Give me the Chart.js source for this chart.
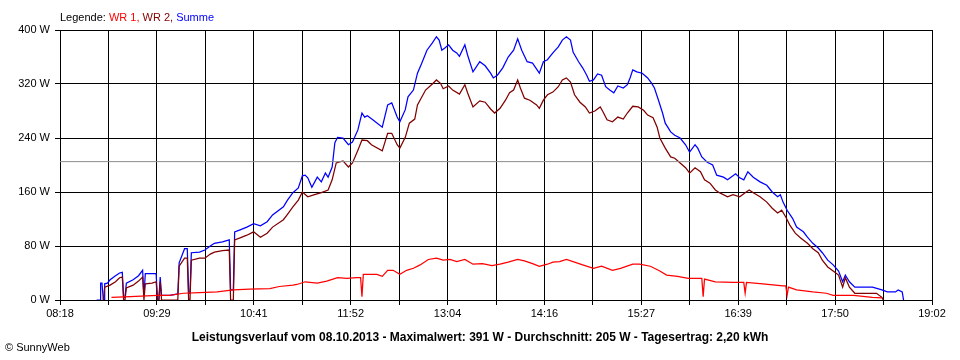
<!DOCTYPE html>
<html>
<head>
<meta charset="utf-8">
<script src="https://cdn.jsdelivr.net/npm/chart.js@4.4.1/dist/chart.umd.min.js"></script>
<style>
  html, body { margin: 0; padding: 0; background: #fff; }
  #wrap { position: relative; width: 960px; height: 360px; }
</style>
</head>
<body>
<div id="wrap"><canvas id="chart" width="960" height="360"></canvas></div>
<script>
// Tick labels of the time axis (every second grid line carries a label)
const xTickLabels = ['08:18', '09:29', '10:41', '11:52', '13:04', '14:16', '15:27', '16:39', '17:50', '19:02']
const yTickStep = 80
const yMax = 400
const averageValue = 205

// WR 1 [time, W]
const wr1 = [
    ['08:56', 4], ['09:10', 5], ['09:22', 6], ['09:30', 7], ['09:39', 7], ['09:49', 10], ['10:01', 11],
    ['10:14', 12], ['10:26', 15], ['10:38', 16], ['10:53', 17], ['11:00', 20], ['11:10', 22], ['11:13', 23],
    ['11:19', 27], ['11:28', 25], ['11:35', 28], ['11:43', 33], ['11:50', 32], ['11:57', 33], ['12:00', 33],
    ['12:01', 5], ['12:02', 38], ['12:12', 38], ['12:16', 35], ['12:20', 44], ['12:24', 44], ['12:29', 38],
    ['12:34', 44], ['12:39', 47], ['12:44', 52], ['12:50', 60], ['12:56', 62], ['13:01', 59], ['13:06', 60],
    ['13:11', 57], ['13:17', 60], ['13:23', 53], ['13:30', 54], ['13:37', 51], ['13:43', 53], ['13:49', 56],
    ['13:56', 60], ['14:01', 58], ['14:07', 54], ['14:12', 50], ['14:18', 53], ['14:22', 56], ['14:27', 57],
    ['14:32', 60], ['14:38', 56], ['14:44', 52], ['14:52', 47], ['14:58', 50], ['15:06', 44], ['15:12', 47],
    ['15:21', 53], ['15:26', 53], ['15:34', 50], ['15:41', 43], ['15:46', 37], ['15:54', 35], ['16:02', 32],
    ['16:12', 32], ['16:13', 5], ['16:14', 31], ['16:22', 27], ['16:35', 26], ['16:43', 26], ['16:44', 10],
    ['16:45', 26], ['16:57', 24], ['17:12', 21], ['17:14', 21], ['17:15', 7], ['17:16', 19], ['17:22', 15],
    ['17:34', 12], ['17:44', 10], ['17:49', 7], ['18:04', 7], ['18:18', 4], ['18:25', 3]
]

// WR 2 [time, W]
const wr2 = [
    ['08:50', 0], ['08:51', 19], ['08:55', 22], ['08:59', 27], ['09:02', 33], ['09:04', 34], ['09:05', 0],
    ['09:06', 0], ['09:07', 18], ['09:12', 22], ['09:16', 28], ['09:19', 34], ['09:20', 0], ['09:21', 24],
    ['09:26', 25], ['09:29', 27], ['09:30', 0], ['09:31', 0], ['09:32', 27], ['09:33', 0], ['09:45', 0],
    ['09:46', 50], ['09:50', 62], ['09:52', 62], ['09:53', 0], ['09:54', 0], ['09:55', 59], ['10:01', 62],
    ['10:05', 62], ['10:09', 68], ['10:12', 71], ['10:18', 73], ['10:23', 74], ['10:24', 0], ['10:26', 0],
    ['10:27', 89], ['10:31', 92], ['10:36', 96], ['10:41', 101], ['10:46', 93], ['10:51', 99], ['10:55', 108],
    ['11:03', 119], ['11:06', 127], ['11:10', 138], ['11:14', 148], ['11:17', 160], ['11:21', 153],
    ['11:26', 156], ['11:31', 159], ['11:36', 163], ['11:39', 178], ['11:42', 203], ['11:47', 206],
    ['11:51', 197], ['11:54', 203], ['11:58', 222], ['12:01', 237], ['12:05', 236], ['12:08', 230],
    ['12:16', 221], ['12:20', 247], ['12:23', 247], ['12:27', 230], ['12:29', 225], ['12:33', 241],
    ['12:36', 262], ['12:40', 268], ['12:42', 289], ['12:48', 311], ['12:53', 320], ['12:56', 326],
    ['12:59', 321], ['13:01', 313], ['13:05', 317], ['13:08', 311], ['13:13', 305], ['13:17', 319],
    ['13:19', 307], ['13:23', 286], ['13:28', 295], ['13:32', 293], ['13:36', 283], ['13:39', 277],
    ['13:43', 284], ['13:47', 296], ['13:50', 307], ['13:53', 311], ['13:56', 326], ['13:58', 314],
    ['14:01', 299], ['14:05', 296], ['14:10', 289], ['14:12', 284], ['14:15', 296], ['14:18', 304],
    ['14:22', 308], ['14:26', 316], ['14:29', 326], ['14:32', 329], ['14:35', 323], ['14:38', 304],
    ['14:42', 293], ['14:46', 286], ['14:49', 277], ['14:53', 280], ['14:57', 286], ['14:59', 279],
    ['15:02', 267], ['15:06', 264], ['15:10', 271], ['15:14', 268], ['15:17', 277], ['15:21', 287],
    ['15:25', 286], ['15:29', 281], ['15:32', 274], ['15:36', 270], ['15:39', 256], ['15:41', 240],
    ['15:45', 225], ['15:49', 212], ['15:52', 210], ['15:56', 203], ['16:00', 196], ['16:03', 188],
    ['16:07', 196], ['16:11', 190], ['16:14', 178], ['16:18', 173], ['16:22', 163], ['16:25', 159],
    ['16:31', 153], ['16:35', 156], ['16:40', 153], ['16:44', 159], ['16:47', 163], ['16:50', 159],
    ['16:55', 153], ['17:00', 145], ['17:04', 136], ['17:08', 129], ['17:11', 133], ['17:14', 123],
    ['17:17', 111], ['17:21', 99], ['17:25', 92], ['17:30', 84], ['17:34', 76], ['17:38', 70],
    ['17:41', 59], ['17:45', 49], ['17:49', 43], ['17:53', 37], ['17:56', 19], ['17:58', 33],
    ['18:01', 19], ['18:05', 10], ['18:13', 10], ['18:21', 10], ['18:25', 4], ['18:26', 0]
]

// Summe [time, W]
const summe = [
    ['08:45', 0], ['08:48', 0], ['08:48', 25], ['08:49', 25], ['08:50', 0], ['08:51', 0], ['08:51', 24],
    ['08:53', 25], ['08:55', 30], ['08:59', 36], ['09:02', 40], ['09:04', 41], ['09:05', 4], ['09:06', 4],
    ['09:07', 25], ['09:12', 30], ['09:16', 36], ['09:19', 44], ['09:20', 6], ['09:21', 39], ['09:29', 39],
    ['09:30', 0], ['09:31', 0], ['09:32', 34], ['09:33', 7], ['09:39', 7], ['09:45', 9], ['09:46', 55],
    ['09:50', 76], ['09:52', 76], ['09:53', 10], ['09:54', 10], ['09:55', 70], ['10:01', 71], ['10:05', 74],
    ['10:09', 80], ['10:12', 84], ['10:18', 86], ['10:23', 89], ['10:24', 15], ['10:26', 15], ['10:27', 101],
    ['10:31', 104], ['10:36', 108], ['10:41', 113], ['10:46', 110], ['10:51', 116], ['10:55', 126],
    ['11:03', 138], ['11:06', 148], ['11:10', 159], ['11:14', 166], ['11:17', 184], ['11:19', 185],
    ['11:21', 181], ['11:24', 167], ['11:28', 182], ['11:31', 175], ['11:34', 188], ['11:36', 182],
    ['11:39', 197], ['11:41', 233], ['11:43', 241], ['11:47', 240], ['11:51', 230], ['11:54', 234],
    ['11:58', 252], ['12:01', 277], ['12:03', 271], ['12:05', 273], ['12:09', 267], ['12:16', 256],
    ['12:20', 289], ['12:23', 292], ['12:27', 271], ['12:29', 264], ['12:33', 282], ['12:35', 301],
    ['12:39', 311], ['12:42', 336], ['12:45', 350], ['12:49', 370], ['12:53', 381], ['12:56', 390],
    ['12:58', 385], ['13:00', 370], ['13:02', 373], ['13:05', 378], ['13:08', 370], ['13:11', 366],
    ['13:13', 361], ['13:17', 378], ['13:19', 363], ['13:23', 338], ['13:28', 353], ['13:32', 347],
    ['13:36', 336], ['13:38', 329], ['13:41', 333], ['13:45', 344], ['13:49', 360], ['13:53', 370],
    ['13:56', 387], ['13:59', 370], ['14:03', 353], ['14:07', 351], ['14:10', 342], ['14:12', 336],
    ['14:15', 353], ['14:18', 356], ['14:22', 366], ['14:26', 375], ['14:29', 385], ['14:32', 390],
    ['14:35', 385], ['14:37', 367], ['14:41', 353], ['14:44', 344], ['14:47', 333], ['14:49', 324],
    ['14:52', 326], ['14:55', 335], ['14:58', 333], ['15:01', 316], ['15:04', 311], ['15:07', 307],
    ['15:10', 317], ['15:14', 314], ['15:17', 319], ['15:19', 329], ['15:21', 341], ['15:24', 338],
    ['15:28', 336], ['15:32', 329], ['15:35', 321], ['15:37', 314], ['15:40', 296], ['15:43', 277],
    ['15:45', 262], ['15:49', 249], ['15:52', 244], ['15:56', 240], ['16:00', 230], ['16:03', 219],
    ['16:07', 230], ['16:09', 225], ['16:12', 212], ['16:16', 204], ['16:20', 200], ['16:23', 185],
    ['16:28', 182], ['16:31', 178], ['16:37', 187], ['16:40', 181], ['16:43', 178], ['16:46', 190],
    ['16:50', 182], ['16:55', 175], ['17:00', 170], ['17:04', 160], ['17:08', 153], ['17:10', 156],
    ['17:12', 145], ['17:15', 133], ['17:19', 121], ['17:22', 108], ['17:27', 101], ['17:30', 93],
    ['17:34', 84], ['17:38', 77], ['17:41', 70], ['17:45', 59], ['17:49', 52], ['17:53', 43],
    ['17:56', 27], ['17:58', 37], ['18:01', 27], ['18:05', 19], ['18:14', 19], ['18:18', 19],
    ['18:25', 15], ['18:29', 12], ['18:35', 12], ['18:37', 15], ['18:40', 12], ['18:41', 0]
]

const legendParts = [
    ['Legende: ', '#000000'],
    ['WR 1, ', '#ff0000'],
    ['WR 2, ', '#800000'],
    ['Summe', '#0000ff']
]
const titleText = 'Leistungsverlauf vom 08.10.2013 - Maximalwert: 391 W - Durchschnitt: 205 W - Tagesertrag: 2,20 kWh'
const footerText = '\u00a9 SunnyWeb'

const FONT = '"Liberation Sans", Arial, sans-serif'

function toMinutes(t) {
    const [h, m] = t.split(':').map(Number)
    return h * 60 + m
}

function toPoints(series) {
    return series.map(([t, v]) => ({ x: toMinutes(t), y: v }))
}

const xMin = toMinutes(xTickLabels[0])
const xMax = toMinutes(xTickLabels[xTickLabels.length - 1])
const gridCount = (xTickLabels.length - 1) * 2

// legend line, title and copyright are plain canvas text
const textPlugin = {
    id: 'sunnyTexts',
    afterDraw(chart) {
        const ctx = chart.ctx
        ctx.save()
        ctx.textBaseline = 'alphabetic'
        ctx.textAlign = 'left'
        ctx.font = '11px ' + FONT
        let x = 60
        legendParts.forEach(([txt, col]) => {
            ctx.fillStyle = col
            ctx.fillText(txt, x, 20.5)
            x += ctx.measureText(txt).width
        })
        ctx.fillStyle = '#000'
        ctx.font = 'bold 12px ' + FONT
        ctx.textAlign = 'center'
        ctx.fillText(titleText, 480, 341)
        ctx.textAlign = 'left'
        ctx.font = '11px ' + FONT
        ctx.fillText(footerText, 5, 351)
        ctx.restore()
    }
}

const lineStyle = { borderWidth: 1.25, pointRadius: 0, tension: 0, fill: false }

new Chart(document.getElementById('chart').getContext('2d'), {
    type: 'line',
    data: {
        datasets: [
            {
                label: 'Durchschnitt',
                data: [{ x: xMin, y: averageValue }, { x: xMax, y: averageValue }],
                borderColor: '#8c8c8c',
                ...lineStyle,
                borderWidth: 1
            },
            { label: 'WR 1', data: toPoints(wr1), borderColor: '#ff0000', ...lineStyle },
            { label: 'WR 2', data: toPoints(wr2), borderColor: '#800000', ...lineStyle },
            { label: 'Summe', data: toPoints(summe), borderColor: '#0000ff', ...lineStyle }
        ]
    },
    options: {
        responsive: false,
        animation: false,
        layout: { padding: { left: 0, right: 28, top: 30, bottom: 0 } },
        plugins: {
            legend: { display: false },
            tooltip: { enabled: false },
            title: { display: false }
        },
        scales: {
            x: {
                type: 'linear',
                min: xMin,
                max: xMax,
                afterBuildTicks(scale) {
                    const ticks = []
                    for (let i = 0; i <= gridCount; i++) {
                        ticks.push({ value: xMin + (xMax - xMin) * i / gridCount })
                    }
                    scale.ticks = ticks
                },
                afterFit(scale) { scale.height = 60 },
                border: { display: false },
                grid: { color: '#000000', lineWidth: 1, tickLength: 5, drawTicks: true },
                ticks: {
                    autoSkip: false,
                    maxRotation: 0,
                    padding: 2,
                    color: '#000000',
                    font: { family: FONT, size: 11 },
                    callback(value, index) {
                        return index % 2 === 0 ? xTickLabels[index / 2] : ''
                    }
                }
            },
            y: {
                min: 0,
                max: yMax,
                afterFit(scale) { scale.width = 60 },
                border: { display: false },
                grid: { color: '#000000', lineWidth: 1, tickLength: 5, drawTicks: true },
                ticks: {
                    stepSize: yTickStep,
                    padding: 5,
                    color: '#000000',
                    font: { family: FONT, size: 11 },
                    callback: v => v + ' W'
                }
            }
        }
    },
    plugins: [textPlugin]
})
</script>
</body>
</html>
